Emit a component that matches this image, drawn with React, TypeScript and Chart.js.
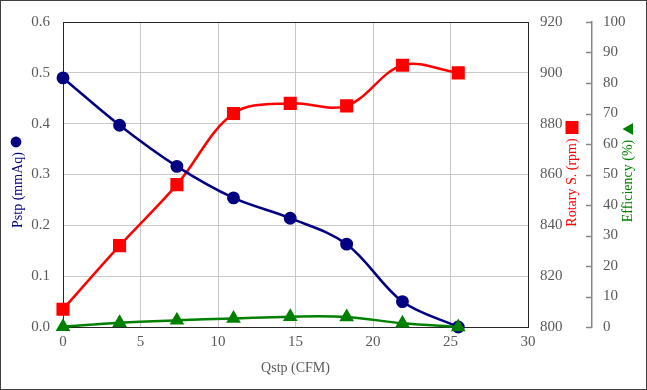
import React, { useEffect, useRef } from "react";
import { Chart, registerables } from "chart.js";

Chart.register(...registerables);

// Data
const qstp = [0.0, 3.65, 7.35, 11.0, 14.66, 18.3, 21.9, 25.5];
const pstp = [0.49, 0.397, 0.316, 0.254, 0.214, 0.163, 0.05, 0.0];
const rpm = [807, 832, 856, 884, 888, 887, 903, 900];
const efficiency = [0.1, 1.4, 2.2, 2.8, 3.4, 3.3, 1.2, 0.0];

const xTitle = "Qstp (CFM)";
const yTitle = "Pstp (mmAq)";
const y2Title = "Rotary S. (rpm)";
const y3Title = "Efficiency (%)";

const BLUE = "#000080";
const RED = "#FF0000";
const GREEN = "#008000";
const TICK = "#595959";
const FONT = "'Liberation Serif', 'Times New Roman', serif";
const TICK_SIZE = 15;

const toPoints = (ys: number[]) => qstp.map((x, i) => ({ x, y: ys[i] }));

const decorPlugin = {
  id: "decor",
  beforeDatasetsDraw(chart: any) {
    const { ctx, chartArea } = chart;
    ctx.save();
    ctx.strokeStyle = "#262626";
    ctx.lineWidth = 1;
    ctx.strokeRect(
      Math.round(chartArea.left) + 0.5,
      Math.round(chartArea.top) + 0.5,
      Math.round(chartArea.right - chartArea.left),
      Math.round(chartArea.bottom - chartArea.top)
    );
    // efficiency axis tick marks (pointing left)
    const s3 = chart.scales.y3;
    ctx.strokeStyle = "#868686";
    ctx.lineWidth = 1.5;
    s3.ticks.forEach((t: any) => {
      const y = Math.round(s3.getPixelForValue(t.value)) + 0.5;
      ctx.beginPath();
      ctx.moveTo(s3.left - 6, y);
      ctx.lineTo(s3.left, y);
      ctx.stroke();
    });
    ctx.restore();
  },
  afterDraw(chart: any) {
    const { ctx, chartArea, width, height } = chart;
    const midY = (chartArea.top + chartArea.bottom) / 2;
    ctx.save();
    // outer frame
    ctx.strokeStyle = "#404040";
    ctx.lineWidth = 1;
    ctx.strokeRect(0.5, 0.5, width - 1, height - 1);

    ctx.font = `14px ${FONT}`;
    ctx.textAlign = "center";
    ctx.textBaseline = "middle";

    const drawRot = (text: string, x: number, y: number, color: string) => {
      ctx.save();
      ctx.translate(x, y);
      ctx.rotate(-Math.PI / 2);
      ctx.fillStyle = color;
      ctx.fillText(text, 0, 0);
      ctx.restore();
    };

    // left title + circle
    drawRot(yTitle, 18, midY + 15.5, BLUE);
    ctx.fillStyle = BLUE;
    ctx.beginPath();
    ctx.arc(16, midY - 32.5, 5.4, 0, Math.PI * 2);
    ctx.fill();

    // rotary title + square
    const s2 = chart.scales.y2;
    const rx = s2.left + 44;
    drawRot(y2Title, rx, midY + 8, RED);
    ctx.fillStyle = RED;
    ctx.fillRect(rx - 6.5, midY - 53.5, 13, 13);

    // efficiency title + left-pointing triangle
    const s3 = chart.scales.y3;
    const ex = s3.left + 36;
    drawRot(y3Title, ex, midY + 6.5, GREEN);
    ctx.fillStyle = GREEN;
    ctx.beginPath();
    ctx.moveTo(ex - 5.5, midY - 45.5);
    ctx.lineTo(ex + 5, midY - 51.5);
    ctx.lineTo(ex + 5, midY - 39.5);
    ctx.closePath();
    ctx.fill();
    ctx.restore();
  },
};

export default function App() {
  const ref = useRef<HTMLCanvasElement | null>(null);

  useEffect(() => {
    document.body.style.margin = "0";
    if (!ref.current) return;
    const chart = new Chart(ref.current, {
      type: "line",
      data: {
        datasets: [
          {
            label: "Efficiency",
            data: toPoints(efficiency),
            yAxisID: "y3",
            borderColor: GREEN,
            backgroundColor: GREEN,
            borderWidth: 2.5,
            pointStyle: "triangle",
            pointRadius: 6,
            tension: 0.35,
            clip: false,
            order: 0,
          },
          {
            label: "Pstp",
            data: toPoints(pstp),
            yAxisID: "y",
            borderColor: BLUE,
            backgroundColor: BLUE,
            borderWidth: 2.5,
            pointStyle: "circle",
            pointRadius: 5.2,
            tension: 0.35,
            clip: false,
            order: 1,
          },
          {
            label: "Rotary",
            data: toPoints(rpm),
            yAxisID: "y2",
            borderColor: RED,
            backgroundColor: RED,
            borderWidth: 2.5,
            pointStyle: "rect",
            pointRadius: 7.5,
            tension: 0.35,
            clip: false,
            order: 2,
          },
        ],
      },
      options: {
        responsive: false,
        animation: false,
        layout: { padding: { top: 20, left: 0, right: 0, bottom: 0 } },
        plugins: {
          legend: { display: false },
          tooltip: { enabled: false },
        },
        scales: {
          x: {
            type: "linear",
            min: 0,
            max: 30,
            ticks: {
              stepSize: 5,
              color: TICK,
              font: { family: FONT, size: TICK_SIZE },
              padding: 6,
              maxRotation: 0,
            },
            grid: { color: "#c8c8c8", drawTicks: false, lineWidth: 1 },
            border: { display: false },
            title: {
              display: true,
              text: xTitle,
              color: TICK,
              font: { family: FONT, size: 14 },
              padding: { top: 0, bottom: 13 },
            },
            afterFit(scale: any) {
              scale.height = 63;
            },
          },
          y: {
            position: "left",
            min: 0,
            max: 0.6,
            ticks: {
              stepSize: 0.1,
              color: TICK,
              font: { family: FONT, size: TICK_SIZE },
              padding: 13,
              callback: (v: any) => Number(v).toFixed(1),
            },
            grid: { color: "#c8c8c8", drawTicks: false, lineWidth: 1 },
            border: { display: false },
            afterFit(scale: any) {
              scale.width = 63;
            },
          },
          y2: {
            position: "right",
            weight: 0,
            min: 800,
            max: 920,
            ticks: {
              stepSize: 20,
              color: TICK,
              font: { family: FONT, size: TICK_SIZE },
              padding: 12,
            },
            grid: { drawOnChartArea: false, drawTicks: false },
            border: { display: false },
            afterFit(scale: any) {
              scale.width = 64;
            },
          },
          y3: {
            position: "right",
            weight: 1,
            min: 0,
            max: 100,
            ticks: {
              stepSize: 10,
              color: TICK,
              font: { family: FONT, size: TICK_SIZE },
              padding: 11,
            },
            grid: { drawOnChartArea: false, drawTicks: false },
            border: { display: true, color: "#868686", width: 1.5 },
            afterFit(scale: any) {
              scale.width = 55;
            },
          },
        },
      } as any,
      plugins: [decorPlugin],
    });
    return () => chart.destroy();
  }, []);

  return (
    <div style={{ width: 647, height: 390, background: "#fff" }}>
      <canvas ref={ref} width={647} height={390} />
    </div>
  );
}
